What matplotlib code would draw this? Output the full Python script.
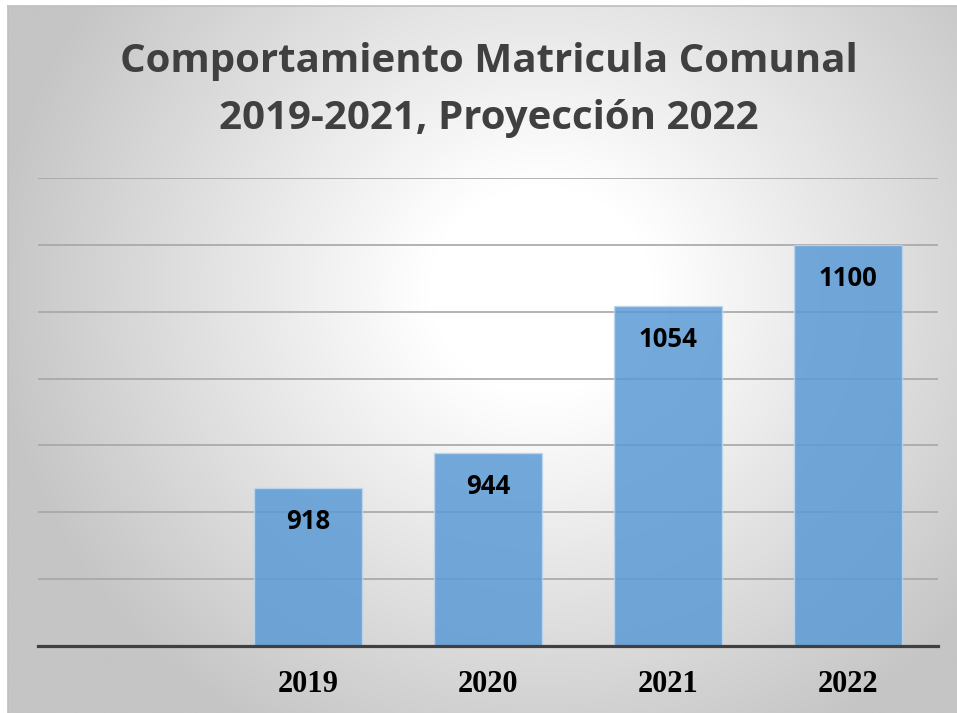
import numpy as np
import matplotlib
matplotlib.use("Agg")
import matplotlib.pyplot as plt

# data
categories = ["", "2019", "2020", "2021", "2022"]
values = [np.nan, 918, 944, 1054, 1100]
title = "Comportamiento Matricula Comunal\n2019-2021, Proyección 2022"

W, H = 957, 713
fig = plt.figure(figsize=(W / 100, H / 100), dpi=100)
fig.patch.set_facecolor("white")

# radial gray-to-white background of the chart area
bg = fig.add_axes([8 / W, 0, 1 - 8 / W, 1 - 6 / H])
ny, nx = 300, 400
yy, xx = np.mgrid[0:ny, 0:nx]
cx, cy = 0.56 * nx, 0.40 * ny
r = np.sqrt(((xx - cx) / nx) ** 2 + ((yy - cy) / ny * 0.8) ** 2)
t = np.clip((r - 0.12) / 0.46, 0, 1)
g = (255 - 58 * t) / 255
bg.imshow(np.dstack([g, g, g]), aspect="auto", extent=[0, 1, 0, 1], origin="upper")
bg.set_xlim(0, 1)
bg.set_ylim(0, 1)
bg.set_xticks([])
bg.set_yticks([])
for s in ["right", "bottom"]:
    bg.spines[s].set_visible(False)
for s in ["left", "top"]:
    bg.spines[s].set_color("#bfbfbf")
    bg.spines[s].set_linewidth(1.2)

ax = fig.add_axes([38 / W, (H - 646) / H, 900 / W, (646 - 178) / H])
ax.patch.set_alpha(0)
x = np.arange(len(categories))
ax.set_xlim(-0.5, len(categories) - 0.5)
ax.set_ylim(800, 1150)
for yv in range(850, 1151, 50):
    ax.axhline(yv, color="#a6a6a6", lw=1.2, zorder=1)

bars = ax.bar(x, values, width=0.6, bottom=0, color="#5b9bd5", alpha=0.85,
              edgecolor="#bdd7ee", linewidth=1.0, zorder=2)
for xi, v in zip(x, values):
    if np.isnan(v):
        continue
    ax.annotate(f"{v:.0f}", (xi, v), xytext=(0, -24), textcoords="offset points",
                ha="center", va="center", fontsize=18.5, fontweight="bold",
                family="Open Sans", color="black", zorder=3)

ax.axhline(800, color="#404040", lw=2.3, zorder=4, clip_on=False)
for s in ax.spines.values():
    s.set_visible(False)
ax.set_yticks([])
ax.set_xticks(x)
ax.set_xticklabels(categories, family="Liberation Serif", fontweight="bold",
                   fontsize=22, color="black")
ax.tick_params(axis="x", length=0, pad=17)

fig.text(489 / W, 1 - 90 / H, title, ha="center", va="center", fontsize=29,
         fontweight="bold", family="Open Sans", color="#404040", linespacing=1.62)

fig.savefig("out.png", dpi=100)
